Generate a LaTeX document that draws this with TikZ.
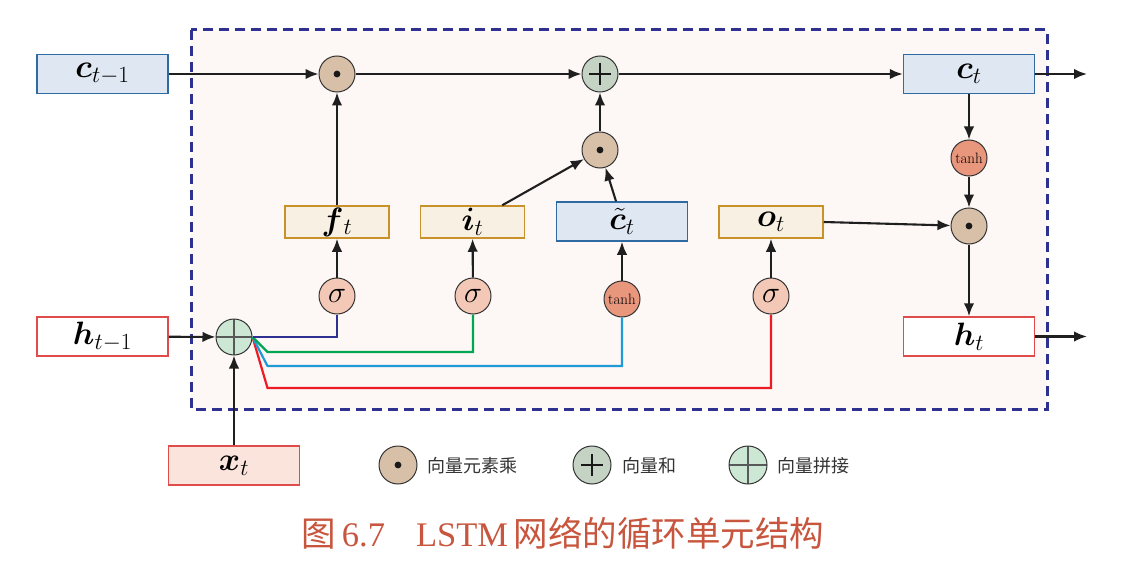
\documentclass[tikz,border=0pt]{standalone}
\usepackage{amsmath,bm}
\usepackage{fontspec}
\newfontfamily\cjk{Noto Sans CJK SC}
\newfontfamily\capserif{Liberation Serif}
\usetikzlibrary{arrows.meta}
\newcommand{\vlab}[2]{\scalebox{1.3}{$#1$}\scalebox{1.12}{$_{#2}$}}
\newcommand{\siglab}{\scalebox{1.22}{$\sigma$}}
\definecolor{framecol}{HTML}{2E3192}
\definecolor{bgfill}{HTML}{FDF7F5}
\definecolor{bluefill}{HTML}{DFE7F2}
\definecolor{bluedraw}{HTML}{2F6AA3}
\definecolor{goldfill}{HTML}{F8F0E3}
\definecolor{golddraw}{HTML}{C8912A}
\definecolor{reddraw}{HTML}{E04B4B}
\definecolor{xfill}{HTML}{FBE4DC}
\definecolor{mulfill}{HTML}{D8C0A8}
\definecolor{addfill}{HTML}{C5D3C5}
\definecolor{catfill}{HTML}{CCE8D5}
\definecolor{sigfill}{HTML}{F3C8B6}
\definecolor{tanhfill}{HTML}{E8967C}
\definecolor{wgreen}{HTML}{00A651}
\definecolor{wcyan}{HTML}{1E9BD7}
\definecolor{wred}{HTML}{ED1C24}
\definecolor{capcol}{HTML}{C8553D}
\tikzset{
  x=1pt, y=-1pt,
  arr/.style={-{Latex[length=13pt,width=10.5pt]}, line width=2.1pt, draw=black!88},
  wire/.style={line width=2.2pt},
  vbox/.style={rectangle, line width=1.5pt, minimum width=131pt, minimum height=39pt, inner sep=0pt, font=\fontsize{24.88}{30}\selectfont},
  bluebox/.style={vbox, fill=bluefill, draw=bluedraw},
  redbox/.style={vbox, fill=white, draw=reddraw},
  xbox/.style={vbox, fill=xfill, draw=reddraw},
  gatebox/.style={vbox, fill=goldfill, draw=golddraw, minimum width=104pt, minimum height=32pt},
  opcirc/.style={circle, draw=black!80, line width=1pt, minimum size=36pt, inner sep=0pt},
  mulop/.style={opcirc, fill=mulfill, path picture={\fill[black!90] (path picture bounding box.center) circle (3.4pt);}},
  addop/.style={opcirc, fill=addfill, path picture={\draw[line width=2pt, black!90] ([xshift=-11pt]path picture bounding box.center) -- ([xshift=11pt]path picture bounding box.center) ([yshift=-11pt]path picture bounding box.center) -- ([yshift=11pt]path picture bounding box.center);}},
  catop/.style={opcirc, fill=catfill, path picture={\draw[line width=1.3pt, black!65] ([xshift=-20pt]path picture bounding box.center) -- ([xshift=20pt]path picture bounding box.center) ([yshift=-20pt]path picture bounding box.center) -- ([yshift=20pt]path picture bounding box.center);}},
  sigop/.style={opcirc, fill=sigfill, font=\fontsize{24.88}{30}\selectfont},
  tanhop/.style={opcirc, fill=tanhfill, font=\fontsize{15}{17}\selectfont},
  legtext/.style={anchor=west, inner sep=0pt, font=\cjk\fontsize{18}{20}\selectfont, text=black!80},
}
\begin{document}
\begin{tikzpicture}
\useasboundingbox (0,0) rectangle (1121,575);
% frame
\draw[framecol, line width=3pt, dash pattern=on 10pt off 6pt, fill=bgfill] (191,30) rectangle (1047,409);

% boxes
\node[bluebox] (cprev) at (102.5,74) {\vlab{\bm{c}}{t-1}};
\node[bluebox] (cnow) at (969,74) {\vlab{\bm{c}}{t}};
\node[redbox] (hprev) at (102.5,336.5) {\vlab{\bm{h}}{t-1}};
\node[redbox] (hnow) at (969,336.5) {\vlab{\bm{h}}{t}};
\node[xbox] (xt) at (234,465.5) {\vlab{\bm{x}}{t}};
\node[gatebox] (ft) at (337,222) {\vlab{\bm{f}}{t}};
\node[gatebox] (it) at (472.5,222) {\vlab{\bm{i}}{t}};
\node[bluebox] (ctil) at (622,221.5) {\vlab{\tilde{\bm{c}}}{t}};
\node[gatebox] (ot) at (771,222) {\vlab{\bm{o}}{t}};

% operators
\node[mulop] (mtop) at (337,74) {};
\node[addop] (add) at (600,74) {};
\node[mulop] (mmid) at (600,150) {};
\node[tanhop] (tanhr) at (969,158) {tanh};
\node[mulop] (mr) at (969,226) {};
\node[sigop] (s1) at (337,296) {\siglab};
\node[sigop] (s2) at (473,296) {\siglab};
\node[tanhop] (tm) at (622,299) {tanh};
\node[sigop] (s3) at (771,296) {\siglab};
\node[catop] (cat) at (234,337) {};

\coordinate (cout) at (1087,74);
\coordinate (hout) at (1087,336.5);

% main connectors
\draw[arr] (cprev) -- (mtop);
\draw[arr] (mtop) -- (add);
\draw[arr] (add) -- (cnow);
\draw[arr] (cnow) -- (cout);
\draw[arr] (hnow) -- (hout);
\draw[arr] (ft) -- (mtop);
\draw[arr] ([xshift=-23pt]it.north east) -- (mmid);
\draw[arr] ([xshift=-6pt]ctil.north) -- (mmid);
\draw[arr] (mmid) -- (add);
\draw[arr] (cnow) -- (tanhr);
\draw[arr] (tanhr) -- (mr);
\draw[arr] (ot.east) -- (mr);
\draw[arr] (mr) -- (hnow);
\draw[arr] (hprev) -- (cat);
\draw[arr] (xt) -- (cat);
\draw[arr] (s1) -- (ft);
\draw[arr] (s2) -- (it);
\draw[arr] (tm) -- (ctil);
\draw[arr] (s3) -- (ot);

% coloured wires
\draw[wire, wred] (cat.east) -- ++(15,51) -| (s3.south);
\draw[wire, wcyan] (cat.east) -- ++(15,29) -| (tm.south);
\draw[wire, wgreen] (cat.east) -- ++(15,15) -| (s2.south);
\draw[wire, framecol] (cat.east) -| (s1.south);

% legend
\node[mulop, minimum size=38pt] (lmul) at (398,465) {};
\node[legtext] (lmult) at (427,466) {向量元素乘};
\node[addop, minimum size=38pt] (ladd) at (592,465) {};
\node[legtext] (laddt) at (622,466) {向量和};
\node[catop, minimum size=38pt] (lcat) at (748,465) {};
\node[legtext] (lcatt) at (777,466) {向量拼接};

% caption
\node[text=capcol, inner sep=0pt] (cap) at (563,533) {\fontsize{34.5}{38}\selectfont{\cjk 图}\,{\capserif 6.7\hspace{0.9em}LSTM}\,{\cjk 网络的循环单元结构}};
\end{tikzpicture}
\end{document}
